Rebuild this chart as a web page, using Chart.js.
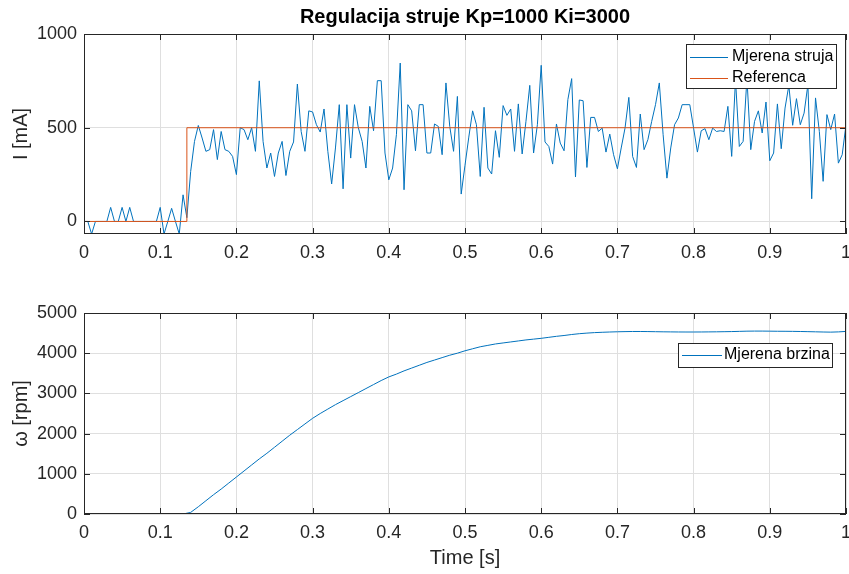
<!DOCTYPE html>
<html lang="en">
<head>
<meta charset="UTF-8">
<title>Regulacija struje Kp=1000 Ki=3000</title>
<script src="https://cdn.jsdelivr.net/npm/chart.js"></script>
<style>
  html, body { margin: 0; padding: 0; background: #fff; }
  #wrap { position: relative; width: 849px; height: 574px; }
  canvas { position: absolute; left: 0; }
  #currentChart { top: 0; }
  #speedChart { top: 290px; }
</style>
</head>
<body>
<div id="wrap">
  <canvas id="currentChart" width="849" height="290"></canvas>
  <canvas id="speedChart" width="849" height="284"></canvas>
</div>
<script>
// ---- values ----
// measured current [mA], one sample every 5 ms from 0 to 1 s
const currentPeriod = 0.005;
const measuredCurrent = [
  0, 0, -67, 0, 0, 0, 0, 75, 0, 0,
  75, 0, 75, 0, 0, 0, 0, 0, 0, 0,
  75, -67, 0, 70, 0, -67, 142, 20, 267, 427,
  512, 445, 374, 383, 490, 330, 480, 383, 374, 347,
  250, 500, 490, 436, 500, 374, 750, 427, 285, 365,
  240, 365, 427, 245, 374, 424, 733, 480, 374, 590,
  584, 516, 477, 600, 374, 200, 392, 623, 174, 623,
  338, 623, 500, 427, 285, 614, 484, 751, 751, 365,
  222, 285, 463, 845, 169, 623, 590, 377, 623, 623,
  365, 365, 520, 507, 356, 739, 507, 374, 667, 146,
  300, 450, 590, 516, 240, 609, 285, 253, 484, 342,
  618, 566, 600, 374, 627, 360, 534, 726, 365, 516,
  833, 424, 400, 306, 520, 418, 377, 650, 762, 237,
  648, 644, 288, 555, 555, 480, 498, 370, 466, 356,
  281, 392, 498, 662, 347, 288, 573, 383, 436, 534,
  623, 739, 463, 231, 392, 516, 552, 623, 623, 623,
  498, 370, 484, 495, 436, 498, 480, 484, 480, 614,
  347, 757, 400, 427, 765, 383, 534, 590, 472, 637,
  324, 365, 627, 388, 605, 726, 513, 655, 516, 578,
  730, 121, 659, 480, 214, 570, 490, 573, 311, 356,
  516
];

// reference current: corners of the step
const refTime = [0, 0.135, 1];
const refCurrent = [0, 500, 500];

// measured speed [rpm], one reading every 10 ms
const speedPeriod = 0.01;
const measuredSpeed = [
  0, 0, 0, 0, 0, 0, 0, 0, 0, 0,
  0, 0, 0, 0, 40, 180, 330, 480, 620, 770,
  920, 1070, 1220, 1370, 1510, 1660, 1810, 1960, 2100, 2240,
  2380, 2500, 2610, 2720, 2820, 2920, 3020, 3120, 3220, 3320,
  3410, 3480, 3560, 3630, 3700, 3770, 3830, 3890, 3950, 4000,
  4060, 4110, 4160, 4195, 4230, 4255, 4280, 4305, 4330, 4350,
  4370, 4395, 4420, 4440, 4465, 4485, 4500, 4512, 4520, 4527,
  4533, 4537, 4540, 4540, 4538, 4535, 4532, 4530, 4528, 4527,
  4527, 4528, 4530, 4532, 4535, 4538, 4543, 4548, 4550, 4550,
  4548, 4546, 4545, 4543, 4540, 4536, 4532, 4527, 4524, 4530,
  4542
];

const timeTicks = [0, 0.1, 0.2, 0.3, 0.4, 0.5, 0.6, 0.7, 0.8, 0.9, 1];
const currentTicks = [0, 500, 1000];
const speedTicks = [0, 1000, 2000, 3000, 4000, 5000];

// ---- styling ----
const FONT = '"Liberation Sans", Arial, Helvetica, sans-serif';
const AXIS_COLOR = '#262626';
const GRID_COLOR = '#dfdfdf';
const BLUE = '#0072BD';
const ORANGE = '#D95319';

Chart.defaults.font.family = FONT;
Chart.defaults.animation = false;

// MATLAB style box, inward ticks and a legend inside the axes
const matlabBox = {
  id: 'matlabBox',
  afterDatasetsDraw(chart, args, opts) {
    const { ctx, chartArea: a, scales } = chart;
    ctx.save();
    ctx.strokeStyle = AXIS_COLOR;
    ctx.lineWidth = 1;
    ctx.beginPath();
    scales.x.ticks.forEach(t => {
      const px = Math.round(scales.x.getPixelForValue(t.value)) + 0.5;
      ctx.moveTo(px, a.bottom); ctx.lineTo(px, a.bottom - 6);
      ctx.moveTo(px, a.top); ctx.lineTo(px, a.top + 6);
    });
    scales.y.ticks.forEach(t => {
      const py = Math.round(scales.y.getPixelForValue(t.value)) + 0.5;
      ctx.moveTo(a.left, py); ctx.lineTo(a.left + 6, py);
      ctx.moveTo(a.right, py); ctx.lineTo(a.right - 6, py);
    });
    ctx.stroke();
    ctx.strokeRect(Math.round(a.left) + 0.5, Math.round(a.top) + 0.5,
      Math.round(a.width) - 1, Math.round(a.height) - 1);

    // legend
    const L = opts.legend;
    if (L) {
      const bx = Math.round(a.left + L.x), by = Math.round(a.top + L.y);
      ctx.fillStyle = '#fff';
      ctx.fillRect(bx, by, L.w, L.h);
      ctx.strokeStyle = AXIS_COLOR;
      ctx.strokeRect(bx + 0.5, by + 0.5, L.w, L.h);
      ctx.font = '16px ' + FONT;
      ctx.textBaseline = 'middle';
      ctx.textAlign = 'left';
      chart.data.datasets.forEach((ds, i) => {
        const cy = by + L.rows[i];
        ctx.strokeStyle = ds.borderColor;
        ctx.beginPath();
        ctx.moveTo(bx + L.line[0], Math.round(cy) + 0.5);
        ctx.lineTo(bx + L.line[1], Math.round(cy) + 0.5);
        ctx.stroke();
        ctx.fillStyle = '#000';
        ctx.fillText(ds.label, bx + L.textX, cy);
      });
    }
    ctx.restore();
  }
};

function xAxis(withTitle) {
  return {
    type: 'linear',
    min: 0,
    max: 1,
    afterBuildTicks: s => { s.ticks = timeTicks.map(v => ({ value: v })); },
    afterFit: s => {
      s.height = withTitle ? 60 : 56;
      s.paddingLeft = 0;
      s.paddingRight = 0;
    },
    ticks: { color: AXIS_COLOR, font: { size: 18 }, padding: 8, maxRotation: 0, callback: v => String(v) },
    grid: { color: GRID_COLOR, drawTicks: false },
    border: { display: false },
    title: {
      display: withTitle,
      text: 'Time [s]',
      color: AXIS_COLOR,
      font: { size: 20 },
      padding: { top: 0, bottom: 4 }
    }
  };
}

function yAxis(min, max, tickValues, label) {
  return {
    type: 'linear',
    min: min,
    max: max,
    afterBuildTicks: s => { s.ticks = tickValues.map(v => ({ value: v })); },
    afterFit: s => { s.width = 84; },
    ticks: { color: AXIS_COLOR, font: { size: 18 }, padding: 7, callback: v => String(v) },
    grid: { color: GRID_COLOR, drawTicks: false },
    border: { display: false },
    title: {
      display: true,
      text: label,
      color: AXIS_COLOR,
      font: { size: 20 },
      padding: { top: 9, bottom: 0 }
    }
  };
}

const lineStyle = {
  borderWidth: 1,
  pointRadius: 0,
  tension: 0,
  borderJoinStyle: 'round',
  fill: false
};

new Chart(document.getElementById('currentChart'), {
  type: 'line',
  data: {
    datasets: [
      Object.assign({
        label: 'Mjerena struja',
        data: measuredCurrent.map((v, i) => ({ x: i * currentPeriod, y: v })),
        borderColor: BLUE,
        order: 1
      }, lineStyle),
      Object.assign({
        label: 'Referenca',
        data: refTime.map((t, i) => ({ x: t, y: refCurrent[i] })),
        borderColor: ORANGE,
        stepped: 'before',
        order: 0
      }, lineStyle)
    ]
  },
  options: {
    responsive: false,
    devicePixelRatio: 1,
    layout: { padding: { left: 0, right: 3, top: 0, bottom: 0 } },
    scales: {
      x: xAxis(false),
      y: yAxis(-67, 1000, currentTicks, 'I [mA]')
    },
    plugins: {
      legend: { display: false },
      tooltip: { enabled: false },
      title: {
        display: true,
        fullSize: false,
        text: 'Regulacija struje Kp=1000 Ki=3000',
        color: '#000',
        font: { size: 20, weight: 'bold' },
        padding: { top: 5, bottom: 5 }
      },
      matlabBox: {
        legend: { x: 602, y: 10, w: 150, h: 44, rows: [13, 34], line: [4, 42], textX: 46 }
      }
    }
  },
  plugins: [matlabBox]
});

new Chart(document.getElementById('speedChart'), {
  type: 'line',
  data: {
    datasets: [
      Object.assign({
        label: 'Mjerena brzina',
        data: measuredSpeed.map((v, i) => ({ x: i * speedPeriod, y: v })),
        borderColor: BLUE
      }, lineStyle)
    ]
  },
  options: {
    responsive: false,
    devicePixelRatio: 1,
    layout: { padding: { left: 0, right: 3, top: 23, bottom: 0 } },
    scales: {
      x: xAxis(true),
      y: yAxis(0, 5000, speedTicks, 'ω [rpm]')
    },
    plugins: {
      legend: { display: false },
      tooltip: { enabled: false },
      matlabBox: {
        legend: { x: 594, y: 30, w: 154, h: 24, rows: [12], line: [4, 44], textX: 46 }
      }
    }
  },
  plugins: [matlabBox]
});
</script>
</body>
</html>
